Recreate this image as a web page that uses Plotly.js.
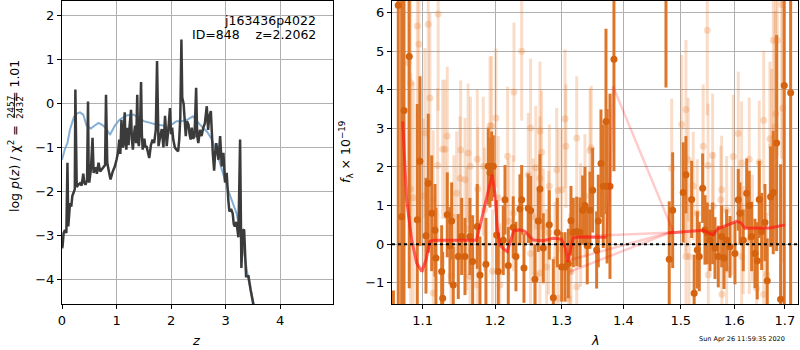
<!DOCTYPE html>
<html>
<head>
<meta charset="utf-8">
<script src="https://cdn.plot.ly/plotly-3.0.1.min.js"></script>
<style>html,body{margin:0;padding:0;background:#fff;}#chart{width:800px;height:350px;}</style>
</head>
<body>
<div id="chart"></div>
<script>
// ---------- Left panel: log p(z) ----------
const zGrid = [0.00,0.01,0.03,0.055,0.08,0.10,0.115,0.13,0.147,0.17,0.19,0.21,0.235,0.245,0.255,0.27,0.30,0.33,0.36,0.39,0.41,0.43,0.46,0.477,0.49,0.50,0.53,0.56,0.58,0.62,0.64,0.67,0.70,0.73,0.76,0.79,0.807,0.82,0.83,0.86,0.89,0.93,0.97,1.00,1.03,1.05,1.07,1.09,1.11,1.12,1.14,1.15,1.165,1.18,1.20,1.22,1.24,1.266,1.28,1.30,1.32,1.34,1.36,1.38,1.395,1.41,1.43,1.45,1.465,1.48,1.51,1.53,1.55,1.58,1.60,1.63,1.66,1.69,1.72,1.743,1.76,1.77,1.80,1.83,1.86,1.89,1.91,1.92,1.95,1.98,2.00,2.02,2.04,2.07,2.10,2.13,2.15,2.17,2.19,2.205,2.23,2.25,2.27,2.29,2.32,2.34,2.36,2.38,2.40,2.43,2.46,2.48,2.50,2.53,2.56,2.59,2.62,2.655,2.68,2.70,2.73,2.765,2.79,2.81,2.83,2.87,2.90,2.93,2.96,2.99,3.02,3.05,3.07,3.10,3.13,3.15,3.17,3.20,3.235,3.266,3.29,3.315,3.34,3.376,3.42,3.46,3.51];
const logPz = [-3.30,-3.26,-2.95,-2.88,-2.95,-1.35,-2.80,-2.60,-2.27,-2.35,-2.10,-2.04,-1.95,0.32,-1.20,-1.90,-1.85,-1.82,-1.87,-1.60,-1.80,-1.85,-1.75,0.05,-1.70,-1.80,-1.50,-0.78,-1.58,-1.45,-1.60,-1.35,-1.55,-1.50,-1.45,-1.40,0.20,-1.30,-1.35,-1.55,-1.73,-1.55,-1.43,-1.28,-1.10,-0.82,-1.15,-0.37,-1.00,-0.97,-0.45,-0.20,-0.90,-1.05,-0.55,-0.95,-0.50,-0.14,-0.80,-1.05,-0.70,-0.50,-0.90,0.20,-0.85,-0.97,-0.60,0.49,-0.70,-1.05,-0.80,-1.00,-0.97,-1.15,-1.24,-0.95,-0.82,-0.90,-0.60,0.97,-0.50,-0.97,-0.75,-0.58,-1.00,-0.28,-0.70,-0.97,-0.60,-0.10,-0.70,-0.55,-0.82,-1.00,-1.05,-1.09,-0.82,-0.30,1.46,0.14,0.00,-0.55,-0.74,-0.40,-0.48,-0.70,-0.82,-0.55,-0.80,-0.75,0.36,-0.75,-0.90,-0.60,-0.74,-0.55,-0.45,-0.06,-0.60,-0.30,-0.17,-1.12,-1.53,-1.10,-0.90,-1.28,-0.74,-1.43,-1.12,-1.80,-1.58,-2.20,-2.46,-2.40,-2.50,-2.75,-2.80,-2.70,-3.05,-0.82,-3.75,-2.90,-2.87,-3.94,-3.94,-4.25,-4.59];

const zChi = [0.00,0.05,0.10,0.147,0.22,0.28,0.33,0.39,0.45,0.53,0.60,0.67,0.73,0.80,0.88,0.97,1.06,1.18,1.31,1.40,1.50,1.62,1.74,1.86,1.92,2.01,2.10,2.19,2.31,2.40,2.53,2.66,2.75,2.84,2.93,3.02,3.11,3.20,3.28,3.36,3.42,3.48,3.52];
const chi2Rel = [-1.28,-1.05,-0.90,-0.59,-0.30,-0.22,-0.20,-0.25,-0.50,-0.57,-0.50,-0.44,-0.48,-0.55,-0.71,-0.50,-0.36,-0.27,-0.25,-0.32,-0.40,-0.44,-0.48,-0.50,-0.55,-0.48,-0.40,-0.40,-0.36,-0.29,-0.48,-0.64,-0.82,-1.12,-1.50,-1.88,-2.19,-2.50,-2.95,-3.56,-4.02,-4.36,-4.59];

// ---------- Right panel: spectrum ----------
// dark (primary) points
const lamA = [1.0682,1.0824,1.0756,1.0726,1.0964,1.0929,1.1044,1.1074,1.1120,1.1164,1.1177,1.1268,1.1254,1.1330,1.1390,1.1367,1.1412,1.1481,1.1528,1.1574,1.1643,1.1681,1.1746,1.1784,1.1869,1.1902,1.1927,1.1951,1.1974,1.2023,1.2046,1.2144,1.2192,1.2119,1.2265,1.2305,1.2364,1.2390,1.2424,1.2488,1.2524,1.2589,1.2640,1.2665,1.2716,1.2808,1.2870,1.2932,1.3000,1.3052,1.3104,1.3146,1.3183,1.3237,1.3289,1.3332,1.3369,1.3406,1.3450,1.3493,1.3558,1.3585,1.3629,1.3666,1.3711,1.3730,1.3777,1.3843,1.4736,1.4794,1.4855,1.5045,1.5094,1.5198,1.5244,1.5301,1.5338,1.5400,1.5443,1.5486,1.5536,1.5586,1.5630,1.5692,1.5756,1.5800,1.5851,1.5914,1.6010,1.6074,1.6106,1.6170,1.6237,1.6287,1.6334,1.6399,1.6445,1.6484,1.6532,1.6597,1.6643,1.6710,1.6764,1.6832,1.6913,1.6987,1.7118,1.0620];
const fluxA = [6.19,4.86,3.46,0.71,2.15,0.63,0.22,1.58,0.80,0.36,-0.36,-1.40,-0.71,0.76,0.60,-0.04,-1.06,-0.32,0.20,-0.32,0.20,-0.45,0.46,-0.80,-0.52,2.02,1.85,2.02,2.02,0.24,-0.71,1.15,-0.55,0.10,0.44,-0.32,0.91,1.15,-0.62,0.93,0.87,-0.91,0.60,1.43,-0.10,0.50,-1.39,0.30,-0.59,-0.59,-0.50,0.61,0.30,0.33,0.31,0.88,1.00,-0.04,0.88,1.40,-0.15,0.60,2.09,1.50,3.18,1.50,1.50,4.79,8.00,-0.39,0.88,1.34,1.80,1.16,-1.27,-0.15,-0.32,1.45,0.37,0.28,0.10,0.28,-0.10,-0.32,0.20,-0.36,0.10,-0.07,-0.24,1.15,0.80,0.10,1.32,1.00,0.20,-0.24,-0.43,1.16,0.33,0.56,-0.95,1.23,1.34,2.62,-1.43,4.11,3.92,-3.00];
const errA = [8.0,6.0,6.0,6.0,2.2,3.0,1.5,1.8,1.5,1.2,1.3,1.2,1.2,1.1,1.0,1.0,1.0,1.1,1.0,1.0,1.0,1.2,1.1,1.0,1.2,1.0,0.9,0.9,0.8,0.9,0.9,0.9,1.0,0.9,0.8,0.9,0.9,0.9,0.9,0.9,0.9,0.9,0.8,0.9,0.9,0.9,1.0,0.9,0.9,0.9,0.9,0.9,0.9,0.9,0.9,0.9,1.0,1.0,1.0,1.1,1.0,1.2,1.4,1.6,2.4,2.0,2.4,2.9,3.94,1.5,1.5,1.3,1.0,1.0,1.0,1.0,0.9,0.9,0.9,0.8,0.8,0.8,0.8,0.8,0.8,0.8,0.8,0.8,0.8,0.8,0.8,0.8,0.9,0.9,0.9,0.9,1.0,1.0,1.0,1.0,1.1,1.3,1.6,2.8,3.5,6.0,8.0,1.8];

// light (secondary) points
const lamB = [1.0930,1.0951,1.1074,1.1207,1.0811,1.0842,1.1097,1.1030,1.1330,1.1268,1.1299,1.1200,1.1514,1.1617,1.1650,1.1746,1.1831,1.1927,1.1951,1.2013,1.2182,1.0842,1.0876,1.1008,1.1140,1.1459,1.1505,1.1574,1.1753,1.2046,1.1140,1.1381,1.1643,1.1746,1.1963,1.2071,1.2390,1.2276,1.2524,1.2665,1.2690,1.3052,1.3067,1.3237,1.3450,1.3470,1.2602,1.2488,1.2665,1.2808,1.2922,1.2946,1.3000,1.3369,1.2265,1.2564,1.2716,1.2524,1.2665,1.2767,1.2896,1.3130,1.3146,1.3237,1.3104,1.2946,1.2602,1.5486,1.5094,1.5017,1.4837,1.5136,1.5410,1.5586,1.5500,1.6074,1.5977,1.6139,1.6287,1.6484,1.6573,1.6697,1.6730,1.6764,1.6845,1.6815,1.6934,1.6955,1.6800,1.5094,1.5227,1.5596,1.5756,1.5740,1.5851,1.5094,1.5150,1.5505,1.5760,1.5851,1.6139,1.6433,1.6633,1.6573,1.6170,1.6287,1.1420,1.1600,1.1850,1.2200,1.2800,1.3300,1.5300,1.5950,1.6350];
const fluxB = [5.65,5.18,5.70,5.96,4.70,4.18,3.79,2.88,2.80,2.46,2.46,2.04,2.44,2.36,2.02,2.20,2.02,3.07,3.07,3.27,2.28,1.43,1.20,1.25,1.15,1.32,1.71,1.67,1.43,1.20,-1.27,-0.82,-0.84,-1.06,-0.70,-1.06,5.00,3.94,3.01,2.93,2.38,3.25,2.54,2.75,2.43,2.50,1.98,1.80,1.71,1.50,1.93,1.39,1.41,1.25,0.80,0.72,0.46,-0.24,-0.75,-0.59,-0.41,-0.71,-0.71,-1.10,-1.40,-1.40,-0.80,5.54,3.49,3.10,1.97,2.19,2.54,2.30,2.04,2.87,2.27,2.10,2.20,2.12,3.21,2.73,2.54,5.28,5.28,3.38,6.21,3.52,3.04,1.16,1.51,0.98,1.41,1.15,0.88,-0.32,-0.32,-0.79,-1.30,-0.65,-0.32,-1.14,-0.79,-1.30,0.11,0.11,0.70,0.40,0.90,0.60,0.30,0.50,0.80,0.60,0.40];
const errB = [3.0,3.0,3.0,2.5,4.0,4.0,2.2,2.2,1.8,1.8,1.8,2.0,1.8,1.8,1.8,1.8,1.8,1.8,1.8,1.8,1.8,3.0,3.0,2.0,1.8,1.6,1.6,1.6,1.6,1.6,1.8,1.6,1.6,1.6,1.6,1.6,1.8,1.8,1.8,1.8,1.6,1.8,1.6,1.6,1.6,1.6,1.6,1.6,1.6,1.6,1.6,1.6,1.6,1.6,1.5,1.5,1.5,1.5,1.5,1.5,1.5,1.5,1.5,1.5,1.5,1.5,1.5,2.2,1.8,1.8,1.8,1.6,1.6,1.6,1.6,1.6,1.6,1.6,1.6,1.6,1.8,2.0,2.0,3.0,3.0,3.0,4.0,4.0,3.0,1.4,1.4,1.4,1.4,1.4,1.4,1.4,1.4,1.4,1.4,1.4,1.4,1.5,1.6,1.6,1.4,1.4,1.6,1.6,1.6,1.6,1.6,1.6,1.4,1.4,1.4];

// model (strong) line
const lamModel = [1.0739,1.0790,1.0856,1.0921,1.0988,1.1044,1.1097,1.1141,1.1736,1.1783,1.1853,1.1915,1.1958,1.1997,1.2030,1.2069,1.2127,1.2176,1.2215,1.2274,1.2363,1.2437,1.2562,1.2713,1.2866,1.2996,1.3059,1.3091,1.3127,1.3179,1.3237,1.3718,null,1.4787,1.4864,1.5166,1.5411,1.5586,1.5686,1.6042,1.6127,1.6203,1.6700,1.7000];
const fluxModel = [3.18,1.15,0.11,-0.49,-0.71,-0.41,0.07,0.10,0.10,0.46,0.98,1.50,1.80,1.32,0.46,-0.02,-0.13,-0.19,0.03,0.35,0.37,0.33,0.11,0.09,0.15,0.13,-0.10,-0.45,-0.23,0.16,0.18,0.18,null,0.29,0.30,0.32,0.36,0.24,0.40,0.59,0.55,0.41,0.42,0.50];
// model (faint) connecting segments
const lamFaint = [1.3718,1.3782,1.3827,1.4864,null,1.4864,1.3130,null,1.4864,1.3130,null,1.3237,1.4864];
const fluxFaint = [0.18,1.76,4.09,0.33,null,0.33,-0.71,null,0.33,-0.41,null,0.20,0.30];

const xTickVals = [1.1,1.2,1.3,1.4,1.5,1.6,1.7];
const xTickText = ['1.1','1.2','1.3','1.4','1.5','1.6','1.7'];

const F = 'DejaVu Sans, sans-serif';
const darkCol = '#dd7628';
const darkMk = '#d4620e';
const lightCol = 'rgba(230,125,45,0.26)';

const traces = [
  {x: zChi, y: chi2Rel, type:'scatter', mode:'lines', line:{color:'rgba(110,160,205,0.85)', width:2}, xaxis:'x', yaxis:'y', hoverinfo:'skip'},
  {x: zGrid, y: logPz, type:'scatter', mode:'lines', line:{color:'#3b3b3b', width:2.5}, xaxis:'x', yaxis:'y', hoverinfo:'skip'},
  {x: lamB, y: fluxB, type:'scatter', mode:'markers', marker:{color:lightCol, size:7}, error_y:{type:'data', array:errB, visible:true, color:lightCol, thickness:3, width:0}, xaxis:'x2', yaxis:'y2'},
  {x: lamA, y: fluxA, type:'scatter', mode:'markers', marker:{color:darkMk, size:7}, error_y:{type:'data', array:errA, visible:true, color:darkCol, thickness:3, width:0}, xaxis:'x2', yaxis:'y2'},
  {x: lamFaint, y: fluxFaint, type:'scatter', mode:'lines', line:{color:'rgba(255,0,0,0.2)', width:2.5}, connectgaps:false, xaxis:'x2', yaxis:'y2'},
  {x: lamModel, y: fluxModel, type:'scatter', mode:'lines', line:{color:'rgba(255,20,20,0.65)', width:3}, connectgaps:false, xaxis:'x2', yaxis:'y2'}
];

const ax = {
  showline:true, linecolor:'black', linewidth:1, mirror:true,
  ticks:'outside', ticklen:4, tickwidth:1, tickcolor:'black',
  showgrid:true, gridcolor:'#b0b0b0', gridwidth:1, zeroline:false,
  tickfont:{family:F, size:13, color:'black'}
};
const Y0 = 46/350, Y1 = 349/350;
const layout = {
  width:800, height:350, margin:{l:0,r:0,t:0,b:0},
  paper_bgcolor:'white', plot_bgcolor:'white', showlegend:false,
  font:{family:F, color:'black'},
  xaxis: Object.assign({}, ax, {domain:[62/800, 333/800], range:[0,4.97], dtick:1, tick0:0, anchor:'y'}),
  yaxis: Object.assign({}, ax, {domain:[Y0,Y1], range:[-4.57,2.34], dtick:1, tick0:0, anchor:'x'}),
  xaxis2: Object.assign({}, ax, {domain:[392/800, 798/800], type:'log', range:[Math.log10(1.0602), Math.log10(1.727)], tickmode:'array', tickvals:xTickVals, ticktext:xTickText, anchor:'y2'}),
  yaxis2: Object.assign({}, ax, {domain:[Y0,Y1], range:[-1.55,6.30], dtick:1, tick0:0, anchor:'x2'}),
  shapes: [
    {type:'line', xref:'x2 domain', x0:0, x1:1, yref:'y2', y0:0, y1:0, line:{color:'black', width:2, dash:'dot'}},
    {type:'line', xref:'paper', yref:'paper', x0:14.5/800, x1:14.5/800, y0:(350-118)/350, y1:(350-97)/350, line:{color:'black', width:0.8}}
  ],
  annotations: [
    {xref:'paper', yref:'paper', x:318/800, y:(350-20)/350, xanchor:'right', yanchor:'middle', showarrow:false, text:'j163436p4022', font:{family:F, size:12.5}},
    {xref:'paper', yref:'paper', x:318/800, y:(350-35)/350, xanchor:'right', yanchor:'middle', showarrow:false, text:'ID=848\u00a0\u00a0\u00a0\u00a0z=2.2062', font:{family:F, size:12.5}},
    {xref:'paper', yref:'paper', x:14/800, y:(350-169)/350, xanchor:'center', yanchor:'middle', showarrow:false, textangle:-90, text:'log <i>p</i>(<i>z</i>) / χ<sup>2</sup> =', font:{family:F, size:12.5}},
    {xref:'paper', yref:'paper', x:10/800, y:(350-107.5)/350, xanchor:'center', yanchor:'middle', showarrow:false, textangle:-90, text:'2457', font:{family:F, size:9}},
    {xref:'paper', yref:'paper', x:19.5/800, y:(350-107.5)/350, xanchor:'center', yanchor:'middle', showarrow:false, textangle:-90, text:'2432', font:{family:F, size:9}},
    {xref:'paper', yref:'paper', x:14/800, y:(350-81)/350, xanchor:'center', yanchor:'middle', showarrow:false, textangle:-90, text:'= 1.01', font:{family:F, size:12.5}},
    {xref:'paper', yref:'paper', x:346/800, y:(350-152)/350, xanchor:'center', yanchor:'middle', showarrow:false, textangle:-90, text:'<i>f</i><sub>λ</sub> × 10<sup>−19</sup>', font:{family:F, size:12.5}},
    {xref:'paper', yref:'paper', x:196/800, y:(350-340)/350, xanchor:'center', yanchor:'middle', showarrow:false, text:'<i>z</i>', font:{family:F, size:13}},
    {xref:'paper', yref:'paper', x:595/800, y:(350-340)/350, xanchor:'center', yanchor:'middle', showarrow:false, text:'<i>λ</i>', font:{family:F, size:13}},
    {xref:'paper', yref:'paper', x:742/800, y:(350-339)/350, xanchor:'center', yanchor:'middle', showarrow:false, text:'Sun Apr 26 11:59:35 2020', font:{family:F, size:6.5}}
  ]
};
Plotly.newPlot('chart', traces, layout, {staticPlot:true, displayModeBar:false});
</script>
</body>
</html>
